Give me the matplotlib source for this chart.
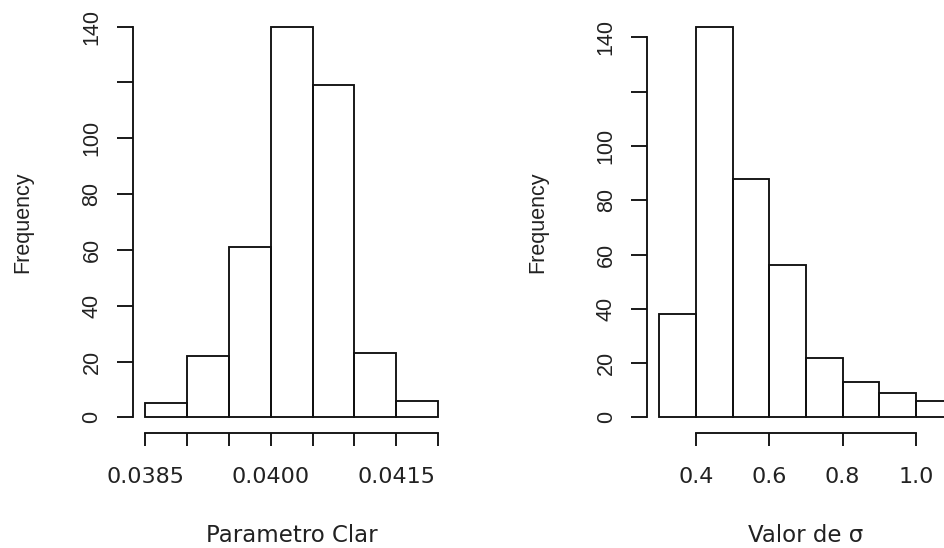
import numpy as np
import matplotlib.pyplot as plt

# Histograma 1: Parametro Clar
clar_edges = [0.0385, 0.0390, 0.0395, 0.0400, 0.0405, 0.0410, 0.0415, 0.0420]
clar_counts = [5, 22, 61, 140, 119, 23, 6]
clar_ticks = [0.0385, 0.0390, 0.0395, 0.0400, 0.0405, 0.0410, 0.0415, 0.0420]
clar_labels = ["0.0385", "", "", "0.0400", "", "", "0.0415", ""]

# Histograma 2: sigma
sigma_edges = [0.3, 0.4, 0.5, 0.6, 0.7, 0.8, 0.9, 1.0, 1.1]
sigma_counts = [38, 144, 88, 56, 22, 13, 9, 6]
sigma_ticks = [0.4, 0.6, 0.8, 1.0]
sigma_labels = ["0.4", "0.6", "0.8", "1.0"]

y_ticks = [0, 20, 40, 60, 80, 100, 120, 140]
y_labels = ["0", "20", "40", "60", "80", "100", "", "140"]

LINE = "#111111"
TEXT = "#222222"
ROT_FONT = "Liberation Sans"
HOR_FONT = "DejaVu Sans"

fig = plt.figure(figsize=(9.44, 5.48), dpi=100)
ax1 = fig.add_axes([0.1412, 0.2099, 0.3355, 0.7701])
ax2 = fig.add_axes([0.6859, 0.2099, 0.3355, 0.7701])


def r_hist(ax, edges, counts, xticks, xlabels, xlabel, xbounds):
    edges = np.array(edges)
    ax.bar(edges[:-1], counts, width=np.diff(edges), align="edge",
           fill=False, edgecolor=LINE, linewidth=1.35)
    # margenes estilo R (4%)
    xr = edges[-1] - edges[0]
    ax.set_xlim(edges[0] - 0.04 * xr, edges[-1] + 0.04 * xr)
    ymax = max(counts)
    ax.set_ylim(-0.04 * ymax, ymax * 1.04)
    for s in ["top", "right"]:
        ax.spines[s].set_visible(False)
    ax.spines["left"].set_bounds(0, 140)
    ax.spines["bottom"].set_bounds(*xbounds)
    for s in ["left", "bottom"]:
        ax.spines[s].set_linewidth(1.35)
        ax.spines[s].set_color(LINE)
    ax.set_yticks(y_ticks)
    ax.set_yticklabels(y_labels, rotation=90, va="center",
                       fontfamily=ROT_FONT, fontsize=15.5, color=TEXT)
    ax.set_xticks(xticks)
    ax.set_xticklabels(xlabels, fontfamily=HOR_FONT, fontsize=16, color=TEXT)
    ax.tick_params(axis="y", length=11.2, width=1.35, color=LINE, pad=11)
    ax.tick_params(axis="x", length=9.7, width=1.35, color=LINE, pad=14.5)
    ax.set_ylabel("Frequency", fontfamily=ROT_FONT, fontsize=15.5, color=TEXT)
    ax.yaxis.label.set_va("center")
    ax.yaxis.set_label_coords(-0.348, 0.5)
    ax.set_xlabel(xlabel, fontfamily=HOR_FONT, fontsize=16.5, color=TEXT)
    ax.xaxis.label.set_va("baseline")
    ax.xaxis.set_label_coords(0.5, -0.2576)


r_hist(ax1, clar_edges, clar_counts, clar_ticks, clar_labels,
       "Parametro Clar", (0.0385, 0.0420))
r_hist(ax2, sigma_edges, sigma_counts, sigma_ticks, sigma_labels,
       "Valor de σ", (0.4, 1.0))

fig.savefig("out.png", dpi=100)
